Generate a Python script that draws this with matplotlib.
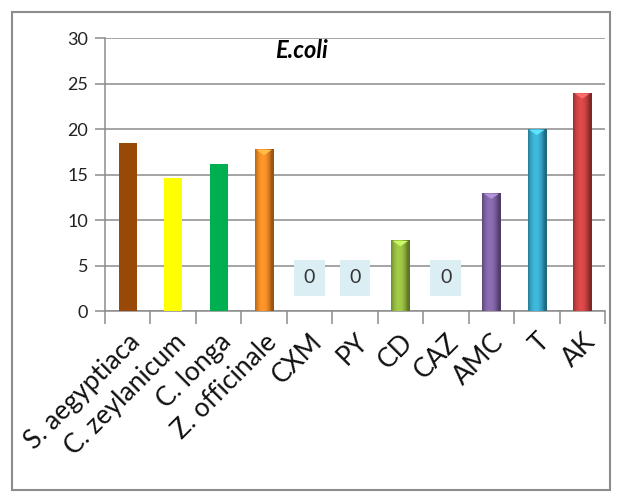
import matplotlib
matplotlib.use("Agg")
import matplotlib.pyplot as plt
import numpy as np
from matplotlib.patches import Rectangle
from matplotlib.colors import to_rgb

categories = ["S. aegyptiaca", "C. zeylanicum", "C. longa", "Z. officinale",
              "CXM", "PY", "CD", "CAZ", "AMC", "T", "AK"]
values = [18.5, 14.6, 16.2, 17.8, 0, 0, 7.8, 0, 13.0, 20.0, 24.0]
colors = ["#984807", "#ffff00", "#00b050", "#f58a1f", "#ffffff", "#ffffff",
          "#96bf3c", "#ffffff", "#8062a6", "#33acd0", "#d23f3f"]
shaded = [False, False, False, True, False, False, True, False, True, True, True]
title = "E.coli"
yticks = [0, 5, 10, 15, 20, 25, 30]

plt.rcParams['font.family'] = ['Lato', 'DejaVu Sans']

W, H = 619, 493
fig = plt.figure(figsize=(W/100, H/100), dpi=100)
ax = fig.add_axes([105/W, 1-311.3/H, 500/W, (311.3-38)/H])

grid_c = "#8c8c8c"
x = np.arange(len(categories))
bw = 0.4
bars = ax.bar(x, values, width=bw, color=colors, zorder=3, linewidth=0)

# cylinder-like shading for some bars
for b, c, s in zip(bars, colors, shaded):
    if not s or b.get_height() <= 0:
        continue
    base = np.array(to_rgb(c))
    t = np.linspace(0, 1, 64)
    prof = np.clip(1 - (np.abs(t - 0.42)*2.1)**2.0, 0, 1)
    light = np.clip(base*(0.62+0.4*prof[:, None]) + 0.04*prof[:, None], 0, 1)
    img = light[None, :, :]
    x0, y0 = b.get_x(), b.get_y()
    im = ax.imshow(img, extent=[x0, x0+b.get_width(), y0, y0+b.get_height()],
                   aspect='auto', zorder=3.5, interpolation='bilinear')
    im.set_clip_path(b)
    cap = 0.55
    ax.fill([x0+0.03, x0+b.get_width()-0.03, x0+b.get_width()/2],
            [y0+b.get_height()-0.08, y0+b.get_height()-0.08, y0+b.get_height()-cap*1.2],
            color=np.clip(base*1.1+0.15, 0, 1), zorder=3.6, lw=0)

ax.set_xlim(-0.5, len(categories)-0.5)
ax.set_ylim(0, 30)
ax.set_yticks(yticks)
ax.set_yticklabels([str(v) for v in yticks], fontsize=13, color="#222222")
ax.yaxis.grid(True, color=grid_c, linewidth=1.1, zorder=0)
ax.set_axisbelow(True)

ax.set_xticks(x)
ax.set_xticklabels(categories, rotation=45, ha='right', rotation_mode='anchor',
                   fontsize=19, color="#111111")
ax.tick_params(axis='x', which='major', length=0, pad=13)
ax.set_xticks(np.arange(-0.5, len(categories)), minor=True)
ax.tick_params(axis='x', which='minor', length=9, color=grid_c, width=1.1)
ax.tick_params(axis='y', length=7, color=grid_c, width=1.1, pad=5)

for s in ['top', 'right']:
    ax.spines[s].set_visible(False)
for s in ['left', 'bottom']:
    ax.spines[s].set_color(grid_c)
    ax.spines[s].set_linewidth(1.1)

# zero value labels
for xi, v in zip(x, values):
    if v == 0:
        ax.annotate("0", (xi, v), xytext=(0, 24), textcoords='offset points',
                    ha='center', va='center', fontsize=14, color="#333333",
                    bbox=dict(boxstyle='square,pad=0.5', fc='#dbeef4', ec='none'),
                    zorder=5)

fig.text(301/W, 1-50/H, title, ha='center', va='center', fontsize=17,
         fontweight='bold', fontstyle='italic')

fig.patches.append(Rectangle((12/W, 1-490/H), 598/W, 478/H, transform=fig.transFigure,
                             fill=False, edgecolor='#8c8c8c', linewidth=1.5))

fig.savefig("out.png", dpi=100)
